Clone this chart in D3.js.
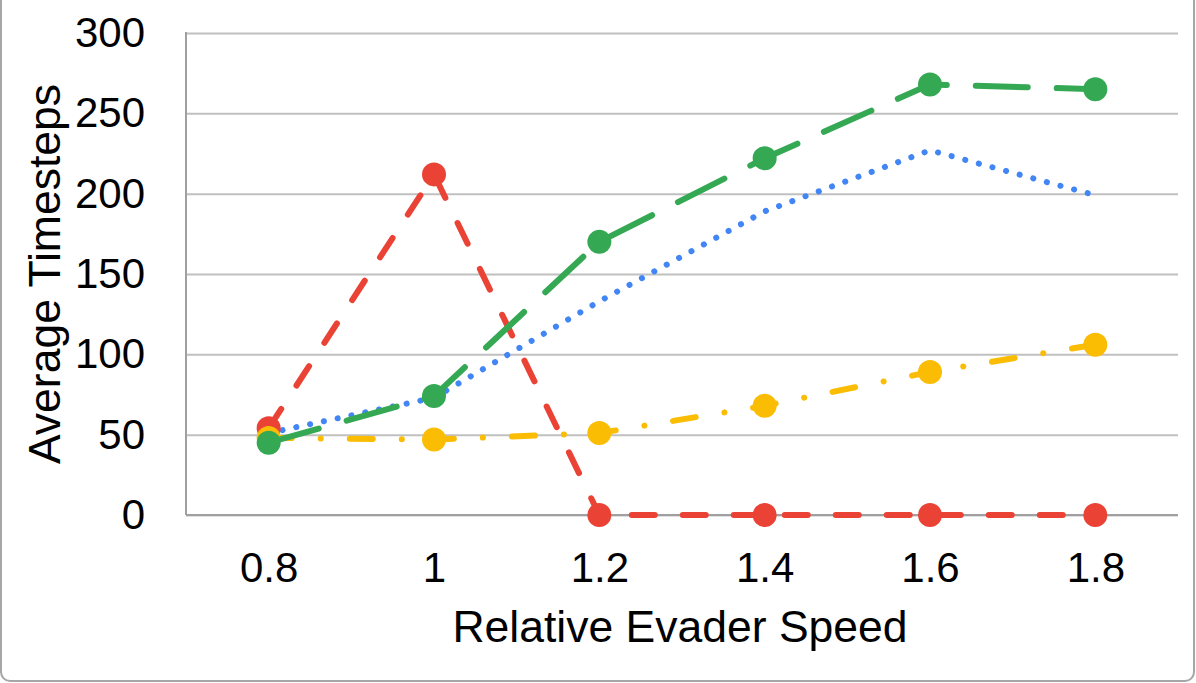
<!DOCTYPE html>
<html>
<head>
<meta charset="utf-8">
<script src="https://cdn.jsdelivr.net/npm/d3@7"></script>
<style>
  html, body { margin: 0; padding: 0; background: #fff; }
  svg { display: block; font-family: "Liberation Sans", Arial, sans-serif; }
</style>
</head>
<body>
<div id="chart"></div>
<script>
// category axis + series
const speeds = ["0.8", "1", "1.2", "1.4", "1.6", "1.8"];
const blueVals = [51, 73, 133, 189, 227, 199];
const redVals = [54, 212, 0, 0, 0, 0];
const yellowVals = [48, 47, 51, 68, 89, 106];
const greenVals = [45, 74, 170, 222, 268, 265];
const yTicks = [0, 50, 100, 150, 200, 250, 300];

const series = [
    { name: 'blue', values: blueVals, color: '#4285f4', dash: '0.1,14', markers: false },
    { name: 'red', values: redVals, color: '#ea4335', dash: '23,28', markers: true },
    { name: 'yellow', values: yellowVals, color: '#fbbc04', dash: '23,29,0.1,29', markers: true },
    { name: 'green', values: greenVals, color: '#34a853', dash: '52,29', markers: true }
];

const width = 1196;
const height = 683;
const plot = { left: 186, right: 1178, top: 33, bottom: 515 };

const svg = d3.select('#chart')
    .append('svg')
    .attr('width', width)
    .attr('height', height);

// outer frame (rounded, top edge cut off like the screenshot)
svg.append('rect')
    .attr('x', 1).attr('y', -10)
    .attr('width', width - 3).attr('height', 691)
    .attr('rx', 9)
    .attr('fill', 'none')
    .attr('stroke', '#a6a6a6')
    .attr('stroke-width', 2);

const x = d3.scalePoint().domain(speeds).range([plot.left, plot.right]).padding(0.5);
const y = d3.scaleLinear().domain([0, 300]).range([plot.bottom, plot.top]);

// gridlines + y labels
const yAxis = svg.append('g')
    .attr('transform', `translate(${plot.left},0)`)
    .call(d3.axisLeft(y).tickValues(yTicks).tickSize(-(plot.right - plot.left)).tickPadding(41));
yAxis.select('.domain').remove();
yAxis.selectAll('line').attr('stroke', '#c0c0c0').attr('stroke-width', 2);
yAxis.selectAll('text')
    .attr('fill', '#000')
    .style('font-size', '42px');

// x labels
const xAxis = svg.append('g')
    .attr('transform', `translate(0,${plot.bottom})`)
    .call(d3.axisBottom(x).tickSize(0).tickPadding(37));
xAxis.select('.domain').remove();
xAxis.selectAll('text')
    .attr('fill', '#000')
    .style('font-size', '42px');

// axis lines
svg.append('line')
    .attr('x1', plot.left).attr('x2', plot.left)
    .attr('y1', plot.top - 1).attr('y2', plot.bottom)
    .attr('stroke', '#a0a0a0').attr('stroke-width', 2);
svg.append('line')
    .attr('x1', plot.left).attr('x2', plot.right)
    .attr('y1', plot.bottom).attr('y2', plot.bottom)
    .attr('stroke', '#a0a0a0').attr('stroke-width', 2);

// titles
svg.append('text')
    .attr('x', (plot.left + plot.right) / 2 - 2)
    .attr('y', 642)
    .attr('text-anchor', 'middle')
    .style('font-size', '44.5px')
    .text('Relative Evader Speed');

svg.append('text')
    .attr('transform', `translate(60,${(plot.top + plot.bottom) / 2}) rotate(-90)`)
    .attr('text-anchor', 'middle')
    .style('font-size', '44.5px')
    .text('Average Timesteps');

const line = d3.line()
    .x((d, i) => x(speeds[i]))
    .y(d => y(d));

series.forEach(s => {
    const g = svg.append('g').attr('class', 'series-' + s.name);
    g.append('path')
        .datum(s.values)
        .attr('d', line)
        .attr('fill', 'none')
        .attr('stroke', s.color)
        .attr('stroke-width', 6)
        .attr('stroke-linecap', 'round')
        .attr('stroke-dasharray', s.dash);

    if (s.markers) {
        g.selectAll('circle')
            .data(s.values)
            .enter()
            .append('circle')
            .attr('cx', (d, i) => x(speeds[i]))
            .attr('cy', d => y(d))
            .attr('r', 12)
            .attr('fill', s.color);
    }
});
</script>
</body>
</html>
